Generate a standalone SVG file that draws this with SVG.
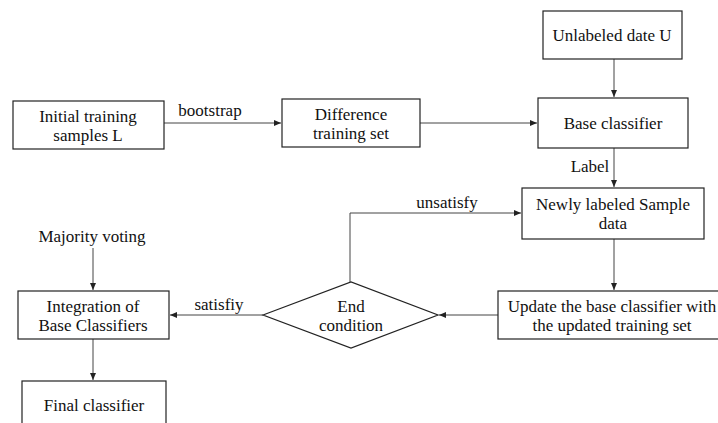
<svg xmlns="http://www.w3.org/2000/svg" width="718" height="423" viewBox="0 0 718 423">
<style>
.box{fill:#fff;stroke:#222;stroke-width:1.2}
.ln{fill:none;stroke:#444;stroke-width:1}
text{font-family:"Liberation Serif","Times New Roman",serif;font-size:17px;fill:#111;text-anchor:middle}
</style>
<defs>
<marker id="ah" markerWidth="8" markerHeight="6" refX="7" refY="3" orient="auto" markerUnits="userSpaceOnUse">
<path d="M0,0 L7,3 L0,6 Z" fill="#222"/>
</marker>
</defs>
<rect width="718" height="423" fill="#fff"/>
<g id="connectors">
<line class="ln" x1="164" y1="123" x2="281" y2="123" marker-end="url(#ah)"/>
<text x="210" y="116">bootstrap</text>
<line class="ln" x1="420" y1="123" x2="537" y2="123" marker-end="url(#ah)"/>
<line class="ln" x1="614" y1="59" x2="614" y2="97" marker-end="url(#ah)"/>
<line class="ln" x1="614" y1="148" x2="614" y2="187" marker-end="url(#ah)"/>
<text x="590" y="172">Label</text>
<line class="ln" x1="614" y1="239" x2="614" y2="290" marker-end="url(#ah)"/>
<line class="ln" x1="498" y1="315" x2="439" y2="315" marker-end="url(#ah)"/>
<polyline class="ln" points="350,282 350,213 521,213" marker-end="url(#ah)"/>
<text x="447" y="208">unsatisfy</text>
<line class="ln" x1="263" y1="315" x2="170" y2="315" marker-end="url(#ah)"/>
<text x="219" y="310">satisfiy</text>
<line class="ln" x1="93" y1="248" x2="93" y2="290" marker-end="url(#ah)"/>
<line class="ln" x1="93" y1="339" x2="93" y2="380" marker-end="url(#ah)"/>
</g>
<g id="initial">
<rect class="box" x="13" y="101" width="151" height="48"/>
<text x="88" y="122">Initial training</text>
<text x="88" y="141">samples L</text>
</g>
<g id="difference">
<rect class="box" x="282" y="99" width="138" height="48"/>
<text x="351" y="120">Difference</text>
<text x="351" y="139">training set</text>
</g>
<g id="unlabeled">
<rect class="box" x="543" y="11" width="139" height="48"/>
<text x="612" y="41">Unlabeled date U</text>
</g>
<g id="base">
<rect class="box" x="538" y="98" width="150" height="50"/>
<text x="613" y="129">Base classifier</text>
</g>
<g id="newly">
<rect class="box" x="522" y="188" width="182" height="51"/>
<text x="613" y="210">Newly labeled Sample</text>
<text x="613" y="229">data</text>
</g>
<g id="update">
<rect class="box" x="498" y="291" width="221" height="48"/>
<text x="612" y="312">Update the base classifier with</text>
<text x="612" y="331">the updated training set</text>
</g>
<g id="end">
<polygon class="box" points="263,315 351,282 438,315 351,348"/>
<text x="351" y="312">End</text>
<text x="351" y="331">condition</text>
</g>
<g id="majority">
<text x="92" y="242">Majority voting</text>
</g>
<g id="integration">
<rect class="box" x="18" y="291" width="151" height="48"/>
<text x="93" y="312">Integration of</text>
<text x="93" y="331">Base Classifiers</text>
</g>
<g id="final">
<rect class="box" x="22" y="381" width="144" height="50"/>
<text x="94" y="411">Final classifier</text>
</g>
</svg>
